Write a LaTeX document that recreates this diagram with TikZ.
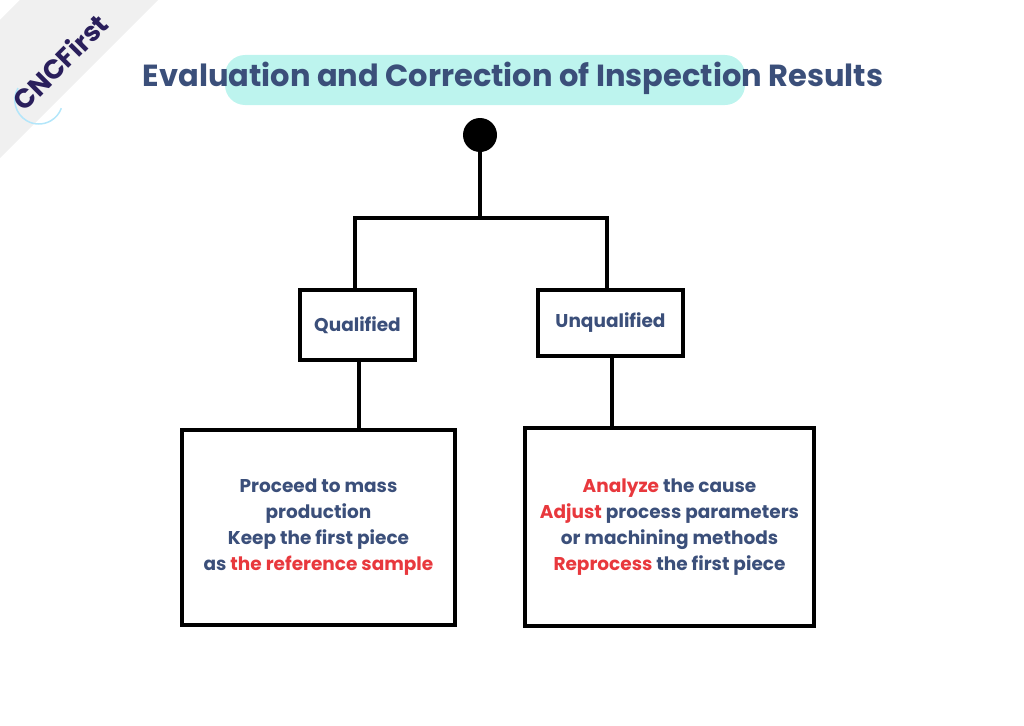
\documentclass[tikz,border=0pt]{standalone}
\usepackage{fontspec}
\setmainfont{Poppins}
\usetikzlibrary{positioning}
\definecolor{navy}{HTML}{3B4F7A}
\definecolor{hired}{HTML}{E8383D}
\definecolor{brush}{HTML}{BDF4EE}
\definecolor{logo}{HTML}{2A1F5C}
\begin{document}
\begin{tikzpicture}[x=1pt,y=-1pt]
\tikzstyle{box}=[draw,line width=3.5pt,text=navy,font=\fontsize{18.5}{26}\selectfont\bfseries,align=center,inner sep=0pt]
\tikzstyle{wire}=[line width=4pt]
\useasboundingbox (0,0) rectangle (1024,725);
% logo band
\fill[gray!12] (0,20) -- (20,0) -- (158,0) -- (0,158) -- cycle;
\draw[cyan!30,line width=1.5pt] (18,88) arc (210:20:24);
\node[rotate=45,text=logo,font=\fontsize{27}{28}\selectfont\bfseries] (logo) at (60,62) {CNCFirst};
% title
\fill[brush,rounded corners=20pt] (225,55) rectangle (745,105);
\node[text=navy,font=\fontsize{30.5}{34}\selectfont\bfseries] (title) at (513,78) {Evaluation and Correction of Inspection Results};
% tree
\node[circle,fill=black,minimum size=34pt,inner sep=0pt] (root) at (480,135) {};
\node[box,minimum width=115pt,minimum height=70pt] (qual) at (357.5,325) {Qualified};
\node[box,minimum width=145pt,minimum height=66pt] (unq) at (610.5,323) {Unqualified};
\node[box,minimum width=273pt,minimum height=195pt] (pass) at (318.5,527.5) {Proceed to mass\\production\\Keep the first piece\\as \textcolor{hired}{the reference sample}};
\node[box,minimum width=289pt,minimum height=198pt] (fail) at (669.5,527) {\textcolor{hired}{Analyze} the cause\\\textcolor{hired}{Adjust} process parameters\\or machining methods\\\textcolor{hired}{Reprocess} the first piece};
\coordinate (split) at (480,218);
\draw[wire] (root) -- (split);
\draw[wire] (355,290) |- (split) -| (607,290);
\draw[wire] (qual.south -| 359,0) -- (pass.north -| 359,0);
\draw[wire] (unq.south -| 612,0) -- (fail.north -| 612,0);
\end{tikzpicture}
\end{document}
